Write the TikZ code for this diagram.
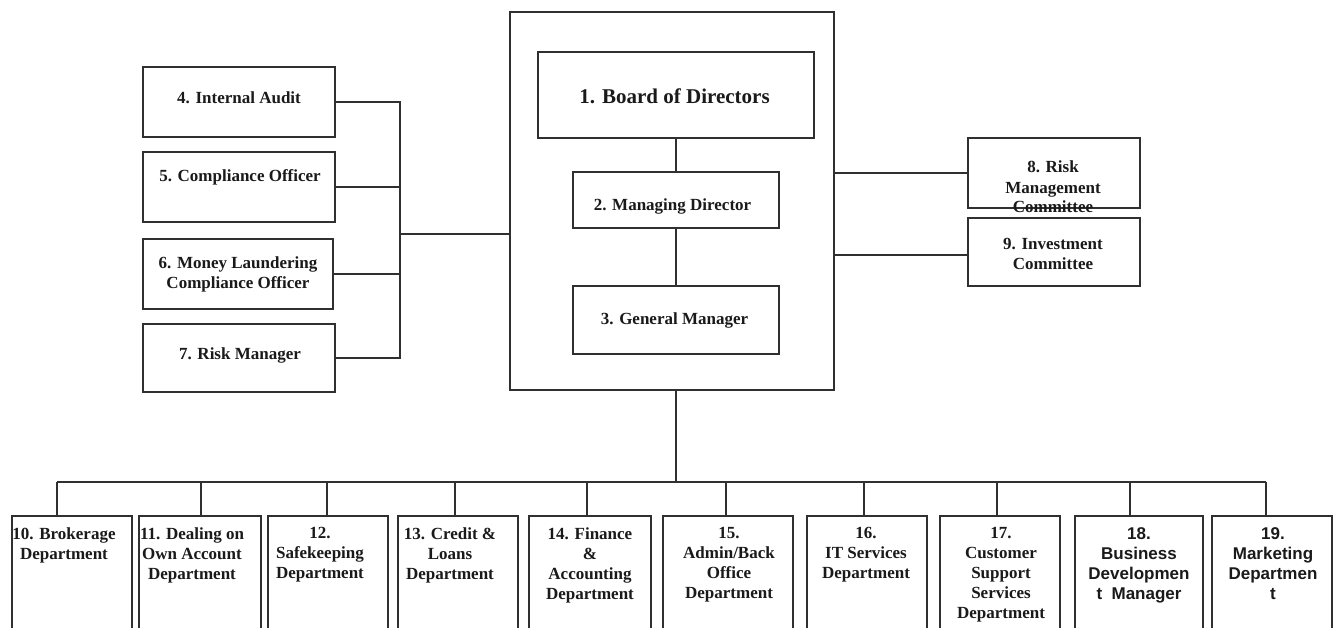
\documentclass[tikz,border=0pt]{standalone}
\usepackage{fontspec}
\setmainfont{Liberation Serif}
\newfontfamily\arialf{Liberation Sans}
\definecolor{linec}{HTML}{303030}
\definecolor{textc}{HTML}{1A1A1A}
\begin{document}
\begin{tikzpicture}[x=1pt,y=-1pt,
  box/.style={draw=linec, line width=2pt, inner sep=0pt, fill=none},
  ln/.style={draw=linec, line width=2pt},
  txt/.style={font=\bfseries\fontsize{17}{20}\selectfont, align=center, text=textc, inner sep=0pt, anchor=north},
  stxt/.style={txt, font=\arialf\bfseries\fontsize{17}{20}\selectfont},
  btxt/.style={txt, font=\bfseries\fontsize{21}{24}\selectfont}]
\useasboundingbox (0,0) rectangle (1338,627);
\clip (0,0) rectangle (1338,627);
\fill[white] (0,0) rectangle (1338,627);
% central group
\node[box, minimum width=324pt, minimum height=378pt] (outer) at (672,201) {};
\node[box, minimum width=276pt, minimum height=86pt] (b1) at (676,95) {};
\node[box, minimum width=206pt, minimum height=56pt] (b2) at (676,200) {};
\node[box, minimum width=206pt, minimum height=68pt] (b3) at (676,320) {};
% left group
\node[box, minimum width=192pt, minimum height=70pt] (b4) at (239,102) {};
\node[box, minimum width=192pt, minimum height=70pt] (b5) at (239,187) {};
\node[box, minimum width=190pt, minimum height=70pt] (b6) at (238,274) {};
\node[box, minimum width=192pt, minimum height=68pt] (b7) at (239,358) {};
% right group
\node[box, minimum width=172pt, minimum height=70pt] (b8) at (1054,173) {};
\node[box, minimum width=172pt, minimum height=68pt] (b9) at (1054,252) {};
% bottom row
\node[box, minimum width=120pt, minimum height=144pt] (b10) at (72,588) {};
\node[box, minimum width=122pt, minimum height=144pt] (b11) at (200,588) {};
\node[box, minimum width=120pt, minimum height=144pt] (b12) at (328,588) {};
\node[box, minimum width=120pt, minimum height=144pt] (b13) at (458,588) {};
\node[box, minimum width=122pt, minimum height=144pt] (b14) at (590,588) {};
\node[box, minimum width=130pt, minimum height=144pt] (b15) at (728,588) {};
\node[box, minimum width=120pt, minimum height=144pt] (b16) at (867,588) {};
\node[box, minimum width=120pt, minimum height=144pt] (b17) at (1000,588) {};
\node[box, minimum width=128pt, minimum height=144pt] (b18) at (1139,588) {};
\node[box, minimum width=120pt, minimum height=144pt] (b19) at (1272,588) {};
% texts
\node[btxt] (t1) at (674.5,89) {1. Board of Directors};
\node[txt] (t2) at (672.5,198) {2. Managing Director};
\node[txt] (t3) at (674.5,312) {3. General Manager};
\node[txt] (t4) at (239,92) {4. Internal Audit};
\node[txt] (t5) at (240,169) {5. Compliance Officer};
\node[txt] (t6) at (238,256) {6. Money Laundering\\Compliance Officer};
\node[txt] (t7) at (240,347) {7. Risk Manager};
\node[txt] (t8) at (1053,161) {8. Risk\\Management\\Committee};
\node[txt] (t9) at (1053,238) {9. Investment\\Committee};
\node[txt] (t10) at (64,527) {10. Brokerage\\Department};
\node[txt] (t11) at (192,527) {11. Dealing on\\Own Account\\Department};
\node[txt] (t12) at (320,527) {12.\\Safekeeping\\Department};
\node[txt] (t13) at (450,527) {13. Credit \&\\Loans\\Department};
\node[txt] (t14) at (590,527) {14. Finance\\\&\\Accounting\\Department};
\node[txt] (t15) at (729,527) {15.\\Admin/Back\\Office\\Department};
\node[txt] (t16) at (866,527) {16.\\IT Services\\Department};
\node[txt] (t17) at (1001,527) {17.\\Customer\\Support\\Services\\Department};
\node[stxt] (t18) at (1139,527) {18.\\Business\\Developmen\\t~~Manager};
\node[stxt] (t19) at (1273,527) {19.\\Marketing\\Departmen\\t};
% connectors centre
\draw[ln] (b1.south) -- (b2.north);
\draw[ln] (b2.south) -- (b3.north);
% left bracket
\coordinate (lb) at (400,234);
\draw[ln] (b4.east) -| (lb);
\draw[ln] (b7.east) -| (lb);
\draw[ln] (b5.east) -- (b5.east -| lb);
\draw[ln] (b6.east) -- (b6.east -| lb);
\draw[ln] (lb) -- (lb -| outer.west);
% right
\coordinate (r9) at (968,255);
\draw[ln] (b8.west) -- (b8.west -| outer.east);
\draw[ln] (r9) -- (r9 -| outer.east);
% bottom bus
\coordinate (bc) at (676,482);
\draw[ln] (outer.south -| b3) -- (bc);
\coordinate (d10) at (57,482);
\coordinate (d11) at (201,482);
\coordinate (d12) at (327,482);
\coordinate (d13) at (455,482);
\coordinate (d14) at (587,482);
\coordinate (d15) at (726,482);
\coordinate (d16) at (864,482);
\coordinate (d17) at (997,482);
\coordinate (d18) at (1130,482);
\coordinate (d19) at (1266,482);
\draw[ln] (d10) -- (d19);
\foreach \i in {10,...,19}{
  \draw[ln] (d\i) -- (d\i |- b\i.north);
}
\end{tikzpicture}
\end{document}
